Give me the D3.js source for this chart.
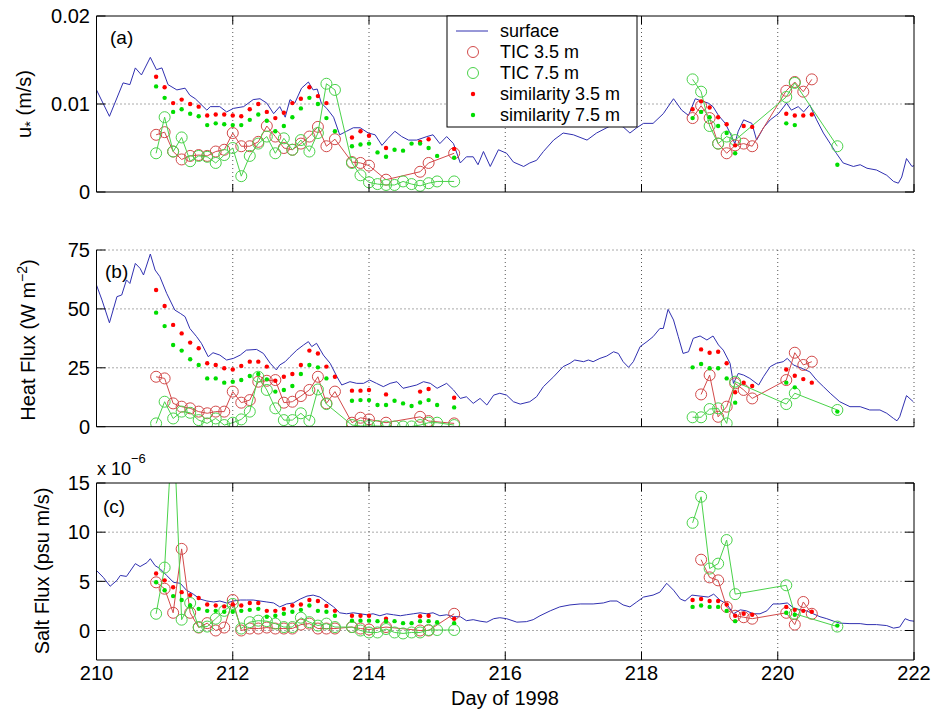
<!DOCTYPE html>
<html>
<head>
  <meta charset="utf-8">
  <title>Fluxes, days 210-222 of 1998</title>
  <script src="https://d3js.org/d3.v7.min.js"></script>
  <style>
    body { margin:0; background:#fff; }
    text { font-family:"Liberation Sans", Arial, Helvetica, sans-serif; fill:#000; }
  </style>
</head>
<body>
<script>
  var w = 934, h = 727;

  // observation times (3-hourly), shared by TIC and similarity series
  var obsDays = [210.875,211,211.125,211.25,211.375,211.5,211.625,211.75,211.875,212,212.125,212.25,212.375,212.5,212.625,212.75,212.875,213,213.125,213.25,213.375,213.5,
                 213.75,213.875,214,214.125,214.25,214.375,214.5,214.625,214.75,214.875,215,215.25,
                 218.75,218.875,219,219.125,219.25,219.375,219.5,219.625,220.125,220.25,220.375,220.5,220.875];
  var gapIndex = 34; // no line drawn across the data gap 215.25 -> 218.75

  // panel (a) friction velocity u* (m/s)
  var surfaceA = [[210.00,0.0116],[210.19,0.0086],[210.39,0.0124],[210.49,0.0122],[210.57,0.0141],[210.66,0.0133],[210.79,0.0153],[210.88,0.0139],[210.96,0.0141],
    [211.05,0.0122],[211.18,0.0116],[211.30,0.0118],[211.37,0.0110],[211.45,0.0106],[211.62,0.0093],[211.67,0.0097],[211.81,0.0097],[211.91,0.0091],
    [212.01,0.0095],[212.16,0.0097],[212.30,0.0105],[212.40,0.0106],[212.50,0.0101],[212.60,0.0089],[212.69,0.0097],[212.77,0.0085],[212.84,0.0105],[212.91,0.0101],
    [213.01,0.0118],[213.11,0.0125],[213.18,0.0116],[213.24,0.0117],[213.30,0.0101],[213.38,0.0095],[213.48,0.0085],[213.57,0.0065],[213.67,0.0069],[213.77,0.0073],[213.87,0.0073],
    [213.99,0.0067],[214.09,0.0065],[214.19,0.0053],[214.28,0.0061],[214.38,0.0069],[214.48,0.0063],[214.58,0.0059],[214.70,0.0059],[214.85,0.0063],[214.94,0.0065],
    [215.04,0.0055],[215.14,0.0063],[215.24,0.0055],[215.34,0.0033],[215.43,0.0040],[215.53,0.0040],[215.60,0.0031],[215.68,0.0046],[215.78,0.0029],[215.90,0.0048],
    [216.02,0.0044],[216.12,0.0034],[216.27,0.0029],[216.36,0.0033],[216.46,0.0036],[216.56,0.0046],[216.71,0.0059],[216.85,0.0067],
    [217.00,0.0065],[217.20,0.0059],[217.34,0.0067],[217.49,0.0073],[217.61,0.0078],[217.73,0.0074],[217.83,0.0067],[217.93,0.0073],
    [218.03,0.0078],[218.17,0.0078],[218.32,0.0089],[218.47,0.0106],[218.59,0.0093],[218.69,0.0087],[218.79,0.0106],[218.86,0.0104],[218.98,0.0101],
    [219.05,0.0097],[219.13,0.0087],[219.23,0.0078],[219.30,0.0067],[219.37,0.0055],[219.42,0.0069],[219.50,0.0082],[219.62,0.0078],[219.69,0.0059],[219.79,0.0073],[219.89,0.0082],
    [220.01,0.0089],[220.13,0.0101],[220.20,0.0093],[220.30,0.0097],[220.38,0.0091],[220.47,0.0099],[220.57,0.0082],[220.67,0.0067],[220.77,0.0055],[220.86,0.0044],[220.96,0.0033],
    [221.11,0.0029],[221.21,0.0031],[221.31,0.0027],[221.45,0.0025],[221.60,0.0019],[221.70,0.0012],[221.77,0.0010],[221.82,0.0017],[221.89,0.0038],[221.97,0.0029],[222.00,0.0030]];
  var ticA35 = [0.0065,0.0068,0.0046,0.0037,0.0041,0.0042,0.0041,0.0046,0.0048,0.0067,0.0052,0.0052,0.0057,0.0075,0.0063,0.0050,0.0048,0.0055,0.0063,0.0074,0.0052,0.0060,
    0.0034,0.0033,0.0030,null,0.0014,null,null,null,0.0023,0.0033,null,0.0044,
    0.0084,0.0098,0.0084,0.0055,0.0044,0.0053,0.0055,0.0052,0.0115,0.0125,0.0114,0.0128,null];
  var ticA75 = [0.0044,0.0085,0.0046,0.0062,0.0035,0.0041,0.0040,0.0033,0.0042,0.0050,0.0018,0.0041,0.0055,0.0063,0.0044,0.0061,0.0048,0.0059,0.0046,0.0067,0.0123,0.0116,
    0.0033,0.0019,0.0011,0.0009,0.0008,0.0008,0.0012,0.0009,0.0007,0.0010,0.0012,0.0012,
    0.0128,0.0114,0.0075,0.0055,0.0063,0.0059,null,null,0.0108,0.0124,null,null,0.0052];
  var simA35 = [0.0131,0.0119,0.0101,0.0105,0.0100,0.0097,0.0087,0.0088,0.0088,0.0087,0.0086,0.0094,0.0100,0.0091,0.0084,0.0090,0.0101,0.0106,0.0119,0.0109,0.0101,null,
    0.0062,0.0069,0.0064,null,0.0050,null,null,null,0.0057,0.0060,null,0.0049,
    0.0094,0.0103,0.0096,0.0085,0.0077,0.0053,0.0075,0.0074,0.0089,0.0087,0.0087,0.0088,null];
  var simA75 = [0.0120,0.0107,0.0091,0.0094,0.0089,0.0086,0.0076,0.0078,0.0077,0.0076,0.0076,0.0082,0.0088,0.0081,0.0069,0.0075,0.0085,0.0095,0.0107,0.0100,0.0084,0.0069,
    0.0052,0.0054,0.0055,0.0045,0.0040,0.0048,0.0047,0.0055,0.0055,0.0050,0.0041,0.0039,
    0.0084,0.0091,0.0085,0.0075,0.0067,0.0044,null,null,0.0078,0.0076,null,null,0.0031];

  // panel (b) heat flux (W m-2)
  var surfaceB = [[210.00,60.1],[210.08,53.8],[210.19,44.1],[210.30,55.2],[210.37,55.9],[210.44,62.3],[210.49,60.8],[210.57,69.3],[210.64,67.2],[210.69,64.4],[210.79,73.3],
    [210.86,66.5],[210.93,63.7],[211.03,56.6],[211.15,49.5],[211.23,48.1],[211.30,46.7],[211.37,41.7],[211.47,38.2],[211.54,35.4],[211.64,29.7],[211.71,31.4],[211.81,30.4],[211.91,28.3],
    [212.01,29.0],[212.11,30.4],[212.20,32.5],[212.35,32.8],[212.45,31.1],[212.55,26.9],[212.64,24.1],[212.69,26.2],[212.77,27.6],[212.84,29.7],[212.94,32.5],
    [213.04,34.7],[213.11,36.1],[213.16,34.0],[213.23,35.4],[213.33,30.4],[213.43,26.9],[213.53,21.2],[213.60,17.7],[213.72,19.1],[213.82,18.4],[213.92,18.4],
    [214.01,19.8],[214.11,18.4],[214.21,17.0],[214.31,18.4],[214.41,19.1],[214.50,16.3],[214.60,17.0],[214.70,17.7],[214.80,19.1],[214.90,18.4],
    [215.00,16.3],[215.14,18.4],[215.24,15.6],[215.34,12.0],[215.43,12.7],[215.53,9.9],[215.63,12.0],[215.73,9.2],[215.83,13.4],[215.92,14.2],
    [216.02,13.4],[216.12,10.6],[216.22,9.6],[216.36,10.6],[216.46,12.7],[216.56,17.0],[216.71,21.2],[216.85,25.5],[216.95,26.9],
    [217.02,28.3],[217.15,27.6],[217.22,28.3],[217.29,27.6],[217.39,29.0],[217.49,30.0],[217.59,31.8],[217.66,31.1],[217.73,27.6],[217.81,25.2],[217.88,27.6],[217.98,34.0],
    [218.08,36.1],[218.17,38.2],[218.27,41.7],[218.32,41.7],[218.39,49.8],[218.47,45.3],[218.54,38.2],[218.61,31.1],[218.69,31.8],[218.76,37.5],[218.86,38.5],[218.96,36.8],
    [219.05,38.5],[219.13,34.7],[219.20,32.5],[219.30,26.9],[219.35,18.4],[219.42,22.6],[219.50,21.9],[219.59,20.5],[219.72,17.7],[219.79,21.2],[219.89,25.5],[219.98,26.9],
    [220.08,27.6],[220.14,29.0],[220.23,26.2],[220.35,24.8],[220.47,23.3],[220.57,19.8],[220.67,17.0],[220.77,14.2],[220.91,10.6],
    [221.06,8.5],[221.21,8.5],[221.35,7.1],[221.50,7.1],[221.60,5.7],[221.70,3.5],[221.75,2.5],[221.79,4.2],[221.89,13.2],[221.99,10.6]];
  var ticB35 = [21.2,20.5,9.9,8.5,7.8,6.4,5.7,6.4,6.4,14.9,10.2,11.3,19.1,19.5,19.8,10.2,10.6,13.0,15.6,21.2,9.9,14.9,
    1.7,3.8,3.1,null,1.7,null,null,null,4.2,2.4,null,1.4,
    null,13.7,21.9,4.2,8.5,18.4,15.6,12.0,19.8,31.4,26.2,27.6,null];
  var ticB75 = [1.4,10.6,3.5,6.4,5.9,2.8,1.4,3.5,0.7,1.7,3.1,6.4,21.2,15.6,7.8,2.8,2.8,5.7,2.5,15.8,9.6,null,
    0.7,0.3,0.3,0.3,0.1,0.1,0.1,0.1,0.7,1.7,1.7,0.7,
    4.0,4.0,7.5,7.8,1.4,19.1,null,null,9.6,14.2,null,null,7.1];
  var simB35 = [58.0,51.2,43.2,39.6,35.7,33.3,26.9,26.2,24.8,24.3,25.8,27.6,27.6,25.5,19.5,21.2,22.4,26.2,32.3,31.1,25.5,21.2,
    15.3,15.3,15.6,null,13.7,null,null,null,14.9,16.0,null,12.3,
    null,32.8,31.4,31.8,26.9,14.6,18.7,17.3,24.3,21.6,20.2,18.7,null];
  var simB75 = [48.4,42.7,34.7,32.3,28.6,26.2,20.5,20.5,18.7,19.1,19.8,21.5,22.4,20.1,14.9,15.6,17.3,22.4,26.2,25.2,20.5,null,
    11.0,11.3,11.3,9.2,9.2,11.0,9.9,8.8,10.3,11.3,9.2,8.2,
    25.2,26.6,24.8,24.8,20.5,10.2,null,null,18.7,16.7,null,null,6.4];

  // panel (c) salt flux (x 1e-6 psu m/s)
  var surfaceC = [[210.00,6.1],[210.10,5.4],[210.20,4.5],[210.30,5.1],[210.35,5.6],[210.44,5.5],[210.57,6.8],[210.64,6.5],[210.74,6.9],[210.79,7.3],[210.86,6.6],[210.93,6.3],
    [211.03,5.6],[211.13,4.9],[211.23,4.8],[211.32,4.1],[211.42,3.7],[211.52,3.2],[211.62,3.0],[211.72,2.9],[211.81,3.0],[211.91,2.8],
    [212.01,3.0],[212.11,3.1],[212.20,3.1],[212.30,3.1],[212.40,3.0],[212.50,2.9],[212.60,2.8],[212.69,2.4],[212.79,2.7],[212.89,2.8],[212.99,3.2],
    [213.09,3.5],[213.18,3.6],[213.28,3.4],[213.38,2.9],[213.48,2.4],[213.57,1.8],[213.67,1.7],[213.77,1.8],[213.87,1.7],[213.97,1.6],
    [214.06,1.7],[214.16,1.5],[214.26,1.7],[214.36,1.6],[214.46,1.5],[214.55,1.6],[214.65,1.7],[214.75,1.8],[214.85,1.7],[214.94,1.8],
    [215.04,1.5],[215.14,1.6],[215.24,1.4],[215.34,1.4],[215.43,1.0],[215.53,1.1],[215.63,0.95],[215.73,0.85],[215.83,1.2],[215.92,1.3],
    [216.02,1.2],[216.17,0.85],[216.31,0.9],[216.41,1.1],[216.51,1.5],[216.66,2.0],[216.80,2.4],[216.95,2.6],
    [217.10,2.7],[217.20,2.7],[217.29,2.7],[217.44,2.8],[217.54,3.0],[217.64,3.0],[217.73,2.6],[217.83,2.4],[217.93,2.9],
    [218.03,3.4],[218.17,3.6],[218.27,3.9],[218.37,4.8],[218.47,4.1],[218.57,3.2],[218.64,3.0],[218.74,3.6],[218.86,3.5],[218.98,3.4],
    [219.06,3.7],[219.15,3.1],[219.25,2.7],[219.35,1.7],[219.45,2.1],[219.54,2.0],[219.64,1.7],[219.74,1.7],[219.84,2.0],[219.93,2.7],
    [220.03,2.7],[220.14,2.8],[220.23,2.3],[220.33,2.1],[220.42,2.0],[220.52,1.7],[220.62,1.4],[220.72,1.2],[220.82,0.95],[220.91,0.75],
    [221.06,0.7],[221.21,0.7],[221.31,0.6],[221.45,0.6],[221.60,0.5],[221.70,0.24],[221.79,0.35],[221.87,1.2],[221.94,1.0],[222.00,0.95]];
  var ticC35 = [4.9,4.25,1.8,8.3,1.8,0.3,0.75,0.0,0.3,3.1,0.0,0.2,0.2,0.3,0.2,0.2,0.2,0.6,0.7,0.2,0.2,0.2,
    0.35,0.2,0.1,null,0.35,null,null,null,0.0,0.0,null,1.7,
    null,7.2,5.4,5.1,2.4,1.5,1.35,1.2,1.8,0.6,2.9,1.7,null];
  var ticC75 = [1.7,6.4,22,1.1,2.8,0.35,0.4,1.2,2.0,2.7,0.2,0.85,1.0,0.95,0.7,0.35,0.35,1.3,0.85,0.5,0.7,0.35,
    0.35,0.0,-0.2,-0.2,0.15,-0.2,-0.3,-0.2,-0.2,0.05,0.05,0.05,
    10.95,13.6,6.3,6.8,9.2,3.7,null,null,4.6,1.7,null,null,0.4];
  var simC35 = [5.8,5.1,4.4,3.9,3.6,3.3,2.65,2.55,2.45,2.65,2.55,2.8,2.8,2.0,2.0,2.2,2.55,2.65,3.1,3.0,2.5,2.0,
    1.5,1.5,1.5,null,1.2,null,null,null,1.45,1.5,null,1.2,
    3.1,3.2,3.0,3.0,2.65,1.5,1.7,1.6,2.4,2.1,2.0,1.9,null];
  var simC75 = [4.9,4.1,3.5,3.1,2.55,2.2,2.0,2.0,1.9,1.9,2.0,2.1,2.2,1.4,1.5,1.7,1.9,2.1,2.55,2.0,1.9,1.5,
    1.0,1.0,1.0,0.95,0.95,0.95,0.75,0.75,0.95,0.95,0.85,0.75,
    2.4,2.55,2.4,2.4,2.0,0.95,null,null,1.8,1.6,null,null,0.5];

  var xTicks = [210,212,214,216,218,220,222];
  var legendLabels = ["surface","TIC 3.5 m","TIC 7.5 m","similarity 3.5 m","similarity 7.5 m"];

  var cBlue = "#3030b0", cRed = "#d24a4a", cGreen = "#4ad24a", cDotRed = "#ff0000", cDotGreen = "#00dd00";

  var panels = [
    {id:"a", top:16,  bottom:192, domain:[0,0.02], ticks:[0,0.01,0.02], fmt:function(d){return d===0?"0":d.toFixed(2);}, box:true,
     surface:surfaceA, tic35:ticA35, tic75:ticA75, sim35:simA35, sim75:simA75, tag:"(a)", tagX:110, tagY:44},
    {id:"b", top:250, bottom:426.7, domain:[0,75], ticks:[0,25,50,75], fmt:d3.format("d"), box:false,
     surface:surfaceB, tic35:ticB35, tic75:ticB75, sim35:simB35, sim75:simB75, tag:"(b)", tagX:105, tagY:278},
    {id:"c", top:483, bottom:660, domain:[-3,15], ticks:[0,5,10,15], fmt:d3.format("d"), box:true,
     surface:surfaceC, tic35:ticC35, tic75:ticC75, sim35:simC35, sim75:simC75, tag:"(c)", tagX:103, tagY:513}
  ];

  var x = d3.scaleLinear().domain([210,222]).range([96.5,914]);

  var svg = d3.select("body").append("svg").attr("width",w).attr("height",h);
  svg.append("rect").attr("width",w).attr("height",h).attr("fill","#fff");

  // split a marker series into connected pieces on either side of the gap
  function pieces(vals){
    var a = [], b = [];
    vals.forEach(function(v,i){
      if(v===null) return;
      (i<gapIndex ? a : b).push([obsDays[i], v]);
    });
    return [a,b];
  }

  panels.forEach(function(p){
    var y = d3.scaleLinear().domain(p.domain).range([p.bottom,p.top]);
    var g = svg.append("g");
    var x0 = x.range()[0], x1 = x.range()[1];

    g.append("clipPath").attr("id","clip-"+p.id)
      .append("rect").attr("x",x0).attr("y",p.top).attr("width",x1-x0).attr("height",p.bottom-p.top);

    // dotted grid
    var gx = xTicks.filter(function(t){ return t>210 && (t<222 || !p.box); });
    var gy = p.ticks.filter(function(t){ return y(t)<p.bottom-1 && (y(t)>p.top+1 || !p.box); });
    g.selectAll(".gx").data(gx).enter().append("line")
      .attr("x1",function(d){return x(d);}).attr("x2",function(d){return x(d);})
      .attr("y1",p.top).attr("y2",p.bottom)
      .attr("stroke","#555").attr("stroke-width",1).attr("stroke-dasharray","1,3");
    g.selectAll(".gy").data(gy).enter().append("line")
      .attr("x1",x0).attr("x2",x1)
      .attr("y1",function(d){return y(d);}).attr("y2",function(d){return y(d);})
      .attr("stroke","#555").attr("stroke-width",1).attr("stroke-dasharray","1,3");

    var plot = g.append("g").attr("clip-path","url(#clip-"+p.id+")");
    var line = d3.line().x(function(d){return x(d[0]);}).y(function(d){return y(d[1]);});

    plot.append("path").datum(p.surface).attr("d",line)
      .attr("fill","none").attr("stroke",cBlue).attr("stroke-width",1);

    [[p.tic35,cRed],[p.tic75,cGreen]].forEach(function(s){
      pieces(s[0]).forEach(function(seg){
        if(seg.length>1){
          plot.append("path").datum(seg).attr("d",line)
            .attr("fill","none").attr("stroke",s[1]).attr("stroke-width",1);
        }
        plot.selectAll(null).data(seg).enter().append("circle")
          .attr("cx",function(d){return x(d[0]);}).attr("cy",function(d){return y(d[1]);})
          .attr("r",5.5).attr("fill","none").attr("stroke",s[1]).attr("stroke-width",1);
      });
    });

    [[p.sim35,cDotRed],[p.sim75,cDotGreen]].forEach(function(s){
      var pts = [];
      s[0].forEach(function(v,i){ if(v!==null) pts.push([obsDays[i],v]); });
      plot.selectAll(null).data(pts).enter().append("circle")
        .attr("cx",function(d){return x(d[0]);}).attr("cy",function(d){return y(d[1]);})
        .attr("r",2.2).attr("fill",s[1]);
    });

    // axes lines
    var axis = g.append("g").attr("stroke","#000").attr("stroke-width",1);
    axis.append("line").attr("x1",x0).attr("x2",x1).attr("y1",p.bottom).attr("y2",p.bottom);
    axis.append("line").attr("x1",x0).attr("x2",x0).attr("y1",p.top).attr("y2",p.bottom);
    if(p.box){
      axis.append("line").attr("x1",x0).attr("x2",x1).attr("y1",p.top).attr("y2",p.top);
      axis.append("line").attr("x1",x1).attr("x2",x1).attr("y1",p.top).attr("y2",p.bottom);
    }
    // inward ticks
    xTicks.forEach(function(t){
      axis.append("line").attr("x1",x(t)).attr("x2",x(t)).attr("y1",p.bottom).attr("y2",p.bottom-8);
      if(p.box) axis.append("line").attr("x1",x(t)).attr("x2",x(t)).attr("y1",p.top).attr("y2",p.top+8);
    });
    p.ticks.forEach(function(t){
      axis.append("line").attr("x1",x0).attr("x2",x0+9).attr("y1",y(t)).attr("y2",y(t));
      if(p.box) axis.append("line").attr("x1",x1).attr("x2",x1-9).attr("y1",y(t)).attr("y2",y(t));
    });

    g.selectAll(".yl").data(p.ticks).enter().append("text")
      .attr("x",90).attr("y",function(d){return y(d);}).attr("dy","0.36em")
      .attr("text-anchor","end").attr("font-size",20).text(p.fmt);

    g.append("text").attr("x",p.tagX).attr("y",p.tagY).attr("font-size",19).text(p.tag);
  });

  // x tick labels under the bottom panel
  svg.selectAll(".xl").data(xTicks).enter().append("text")
    .attr("x",function(d){return x(d);}).attr("y",680)
    .attr("text-anchor","middle").attr("font-size",20).text(function(d){return d;});
  svg.append("text").attr("x",505).attr("y",705).attr("text-anchor","middle")
    .attr("font-size",20).text("Day of 1998");

  // y labels
  var ua = svg.append("text").attr("transform","translate(31,104) rotate(-90)")
    .attr("text-anchor","middle").attr("font-size",20);
  ua.append("tspan").text("u");
  ua.append("tspan").attr("font-size",15).attr("dy",4).text("*");
  ua.append("tspan").attr("dy",-4).text(" (m/s)");

  var hb = svg.append("text").attr("transform","translate(35,340) rotate(-90)")
    .attr("text-anchor","middle").attr("font-size",20);
  hb.append("tspan").text("Heat Flux (W m");
  hb.append("tspan").attr("font-size",14).attr("dy",-8).text("\u22122");
  hb.append("tspan").attr("dy",8).text(")");

  svg.append("text").attr("transform","translate(49,571) rotate(-90)")
    .attr("text-anchor","middle").attr("font-size",20).text("Salt Flux (psu m/s)");

  var ex = svg.append("text").attr("x",97).attr("y",475).attr("font-size",18);
  ex.append("tspan").text("x 10");
  ex.append("tspan").attr("font-size",13).attr("dy",-12).text("\u22126");

  // legend
  var lg = svg.append("g");
  lg.append("rect").attr("x",447).attr("y",16).attr("width",190).attr("height",111)
    .attr("fill","#fff").attr("stroke","#000").attr("stroke-width",1);
  var rows = [31,52,73,94,115];
  lg.append("line").attr("x1",456).attr("x2",488).attr("y1",rows[0]).attr("y2",rows[0])
    .attr("stroke",cBlue).attr("stroke-width",1);
  lg.append("circle").attr("cx",473).attr("cy",rows[1]).attr("r",5.5).attr("fill","none").attr("stroke",cRed);
  lg.append("circle").attr("cx",473).attr("cy",rows[2]).attr("r",5.5).attr("fill","none").attr("stroke",cGreen);
  lg.append("circle").attr("cx",473).attr("cy",rows[3]).attr("r",2.2).attr("fill",cDotRed);
  lg.append("circle").attr("cx",473).attr("cy",rows[4]).attr("r",2.2).attr("fill",cDotGreen);
  lg.selectAll(".lt").data(legendLabels).enter().append("text")
    .attr("x",500).attr("y",function(d,i){return rows[i];}).attr("dy","0.36em")
    .attr("font-size",18).text(function(d){return d;});
</script>
</body>
</html>
